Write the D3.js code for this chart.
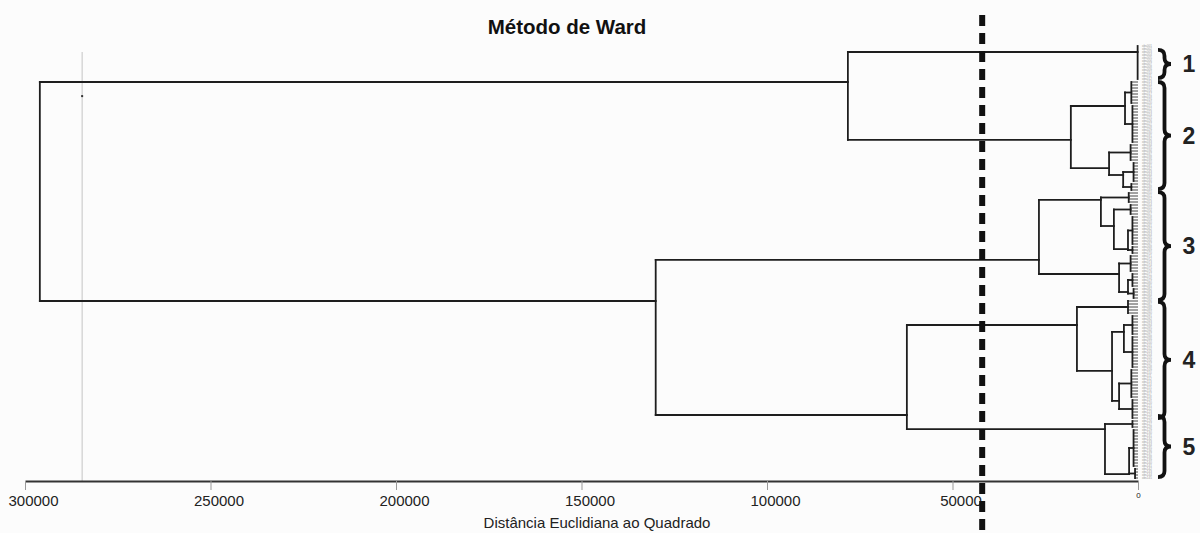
<!DOCTYPE html>
<html><head><meta charset="utf-8">
<script src="https://cdn.jsdelivr.net/npm/d3@7"></script>
<style>
html,body{margin:0;padding:0;background:#fcfcfc;}
svg{display:block;font-family:"Liberation Sans",Arial,sans-serif;}
</style></head>
<body>
<svg id="chart" width="1200" height="533"></svg>
<script>
// ---------- data ----------
const title = "Método de Ward";
const xTitle = "Distância Euclidiana ao Quadrado";
const xTicks = [300000, 250000, 200000, 150000, 100000, 50000, 0];
const leafCount = 145;                // observations (rows) in the tree
const cutHeight = 42000;              // dashed cut line
const refLineHeight = 284600;         // faint grey vertical line
const refDot = [284600, 16.7];
// leaf groups: [id, height, firstRow, lastRow, connectRow(optional)]
const leafGroups = [
  ["g1", 100, 0, 11, 2],
  ["g2", 1800, 12, 19], ["g3", 1500, 20, 32], ["g4", 2000, 33, 38], ["g5", 1200, 39, 45], ["g6", 1800, 46, 48],
  ["g7", 2500, 49, 52], ["g8", 2000, 53, 56], ["g9", 1500, 57, 66], ["g10", 1500, 67, 69],
  ["g11", 2000, 70, 75], ["g12", 1500, 76, 80], ["g13", 1200, 81, 84],
  ["g14", 2700, 85, 89], ["g15", 1500, 90, 96], ["g16", 1500, 97, 107], ["g17", 1800, 108, 117], ["g18", 1500, 118, 124],
  ["g19", 1500, 125, 127], ["g20", 1200, 128, 140], ["g21", 800, 141, 144]
];
// merges: [id, height, childA, childB, connectRow]
const merges = [
  ["c2a", 3500, "g2", "g3", 20],
  ["c2b2", 4000, "g5", "g6", 43],
  ["c2b", 7800, "g4", "c2b2", 40.7],
  ["c2", 18100, "c2a", "c2b", 31.3],
  ["a", 78200, "g1", "c2", 12],
  ["c3a2b", 2700, "g9", "g10", 67.7],
  ["c3a2", 6500, "g8", "c3a2b", 60],
  ["c3a", 10000, "g7", "c3a2", 51.3],
  ["c3b2", 2700, "g12", "g13", 82],
  ["c3b", 5100, "g11", "c3b2", 76],
  ["c3", 26700, "c3a", "c3b", 71.3],
  ["c4b1", 3800, "g15", "g16", 95.3],
  ["c4b2", 5100, "g17", "g18", 118.3],
  ["c4b", 7000, "c4b1", "c4b2", 108.3],
  ["c4", 16460, "g14", "c4b", 93],
  ["c5b", 2400, "g20", "g21", 142.7],
  ["c5", 8900, "g19", "c5b", 127.7],
  ["d", 62300, "c4", "c5", 123],
  ["b", 130000, "c3", "d", 85],
  ["root", 296000, "a", "b", null]
];
const clusterNames = ["1", "2", "3", "4", "5"];
const clusterRows = [[1.3, 10.7], [12, 47.7], [48.7, 84.7], [85.3, 124], [123.3, 143.7]];

// ---------- scales ----------
const svg = d3.select("#chart");
const x = d3.scaleLinear().domain([300000, 0]).range([25, 1138]);
const y = d3.scaleLinear().domain([0, leafCount - 1]).range([46, 478]);
const ink = "#1e1e1e";

// title
svg.append("text").attr("x", 567).attr("y", 34).attr("text-anchor", "middle")
  .attr("font-weight", "bold").attr("font-size", 20.5).attr("fill", "#111").text(title);

// faint reference line
svg.append("line").attr("x1", x(refLineHeight)).attr("x2", x(refLineHeight))
  .attr("y1", 52).attr("y2", 481).attr("stroke", "#c4c4c4").attr("stroke-width", 1);
svg.append("rect").attr("x", x(refDot[0]) - 1).attr("y", y(refDot[1]) - 1).attr("width", 2).attr("height", 2).attr("fill", "#333");

// build nodes
const nodes = {};
leafGroups.forEach(([id, h, a, b, at]) => {
  nodes[id] = {id, h, leaf: true, from: a, to: b, at: at != null ? at : (a + b) / 2};
});
merges.forEach(([id, h, ca, cb, at]) => {
  nodes[id] = {id, h, leaf: false, kids: [ca, cb], at};
});

const segs = [], stubs = [];
Object.values(nodes).forEach(n => {
  if (n.leaf) {
    segs.push([x(n.h), y(n.from), x(n.h), y(n.to)]);
    d3.range(n.from, n.to + 1).forEach(r => stubs.push([x(0), y(r), x(n.h), y(r)]));
  } else {
    const k = n.kids.map(id => nodes[id]);
    segs.push([x(n.h), y(k[0].at), x(n.h), y(k[1].at)]);
    k.forEach(c => segs.push([x(n.h), y(c.at), x(c.h), y(c.at)]));
  }
});
svg.append("g").attr("stroke", "#333").attr("stroke-width", 0.9)
  .selectAll("line").data(stubs).join("line")
  .attr("x1", d => d[0]).attr("y1", d => d[1]).attr("x2", d => d[2]).attr("y2", d => d[3]);
svg.append("g").attr("fill", "none").attr("stroke", ink).attr("stroke-width", 1.8)
  .attr("stroke-linecap", "square")
  .selectAll("line").data(segs).join("line")
  .attr("x1", d => d[0]).attr("y1", d => d[1]).attr("x2", d => d[2]).attr("y2", d => d[3]);

// leaf labels (tiny grey)
svg.append("g").selectAll("text").data(d3.range(leafCount)).join("text")
  .attr("x", 1142).attr("y", r => y(r) + 1).attr("font-size", 3).attr("fill", "#9a9a9a")
  .text(r => "obs" + String(r + 1).padStart(3, "0"));

// axis
const axisY = 481;
const ax = svg.append("g").attr("transform", `translate(0,${axisY})`)
  .call(d3.axisBottom(x).tickValues(xTicks).tickSize(9).tickSizeOuter(0).tickFormat(d3.format("d")));
ax.select(".domain").attr("stroke", "#333").attr("stroke-width", 2.2);
ax.selectAll(".tick line").attr("stroke", "#999").attr("stroke-width", 1);
ax.selectAll(".tick text").attr("font-family", "Liberation Sans, Arial, sans-serif")
  .attr("font-size", d => d === 0 ? 8 : 15).attr("fill", "#222")
  .attr("dx", d => d === 0 ? 0 : 8).attr("y", d => d === 0 ? 11 : 14);

svg.append("text").attr("x", 597).attr("y", 528).attr("text-anchor", "middle")
  .attr("font-size", 15).attr("fill", "#222").text(xTitle);

// cut line
svg.append("line").attr("x1", x(cutHeight)).attr("x2", x(cutHeight)).attr("y1", 15).attr("y2", 533)
  .attr("stroke", "#111").attr("stroke-width", 6).attr("stroke-dasharray", "11,7");

// braces
function brace(y0, y1, x0, w) {
  const xm = x0 + w * 0.5, xt = x0 + w, ym = (y0 + y1) / 2, r = Math.min(6, (y1 - y0) / 4);
  return `M${x0},${y0} Q${xm},${y0} ${xm},${y0 + r} L${xm},${ym - r} Q${xm},${ym} ${xt},${ym}` +
         ` Q${xm},${ym} ${xm},${ym + r} L${xm},${y1 - r} Q${xm},${y1} ${x0},${y1}`;
}
const bg = svg.append("g");
clusterNames.forEach((name, i) => {
  const [a, b] = clusterRows[i];
  const y0 = y(a), y1 = y(b);
  bg.append("path").attr("d", brace(y0, y1, 1158, 13)).attr("fill", "none")
    .attr("stroke", "#111").attr("stroke-width", 3.8);
  bg.append("text").attr("x", 1189).attr("y", (y0 + y1) / 2 + 8).attr("text-anchor", "middle")
    .attr("font-weight", "bold").attr("font-size", 23).attr("fill", "#222").text(name);
});
</script>
</body></html>
